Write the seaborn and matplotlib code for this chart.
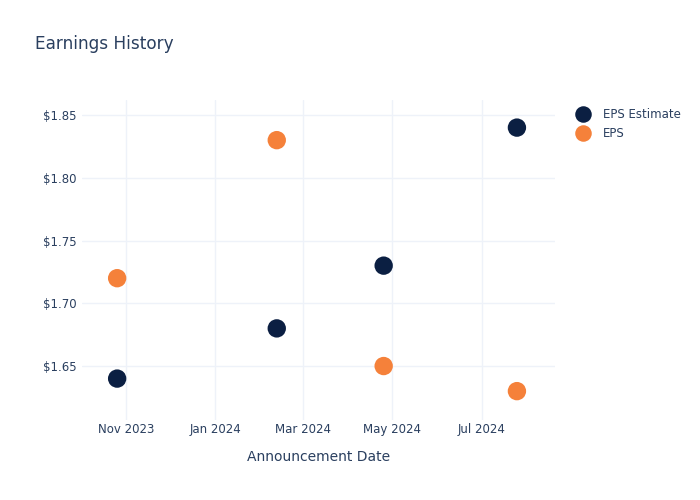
import matplotlib
matplotlib.use("Agg")
import matplotlib.pyplot as plt
import matplotlib.dates as mdates
from matplotlib.ticker import FuncFormatter
import seaborn as sns
import pandas as pd

dates = ["2023-10-26", "2024-02-12", "2024-04-25", "2024-07-25"]
eps_estimate = [1.64, 1.68, 1.73, 1.84]
eps_actual = [1.72, 1.83, 1.65, 1.63]
series_names = ["EPS Estimate", "EPS"]
colors = {"EPS Estimate": "#0b1f42", "EPS": "#f5813a"}

df = pd.DataFrame({
    "date": pd.to_datetime(dates * 2),
    "value": eps_estimate + eps_actual,
    "series": [series_names[0]] * len(dates) + [series_names[1]] * len(dates),
})

text_color = "#2a3f5f"
grid_color = "#eef2f9"

sns.set_style("white")
plt.rcParams["font.family"] = ["DejaVu Sans"]

fig = plt.figure(figsize=(7, 5), dpi=100)
ax = fig.add_axes([82 / 700, 80 / 500, 473 / 700, 320 / 500])

sns.scatterplot(data=df, x="date", y="value", hue="series", hue_order=series_names,
                palette=colors, s=175, edgecolor="none", ax=ax, zorder=3, legend=True)

ax.set_xlim(pd.Timestamp("2023-10-02"), pd.Timestamp("2024-08-20"))
ax.set_ylim(1.607, 1.862)
ax.set_yticks([1.65, 1.70, 1.75, 1.80, 1.85])
ax.yaxis.set_major_formatter(FuncFormatter(lambda v, p: f"${v:.2f}"))
ax.xaxis.set_major_locator(mdates.MonthLocator(bymonth=[1, 3, 5, 7, 9, 11]))
ax.xaxis.set_major_formatter(mdates.DateFormatter("%b %Y"))

ax.grid(True, color=grid_color, linewidth=1)
ax.set_axisbelow(True)
for s in ax.spines.values():
    s.set_visible(False)
ax.tick_params(axis="both", length=0, colors=text_color, labelsize=8.5)
ax.tick_params(axis="y", pad=4)
ax.tick_params(axis="x", pad=2)
ax.set_xlabel("Announcement Date", color=text_color, fontsize=10, labelpad=10.5)
ax.set_ylabel("")

leg = ax.legend(loc="upper left", bbox_to_anchor=(1.0165, 1.0), frameon=False,
                fontsize=8.5, handletextpad=0.7, labelspacing=0.5, borderaxespad=0.3,
                markerscale=0.9)
for t in leg.get_texts():
    t.set_color(text_color)

fig.text(35 / 700, 1 - 44 / 500, "Earnings History", color=text_color, fontsize=12.2, va="center")

fig.savefig("out.png", dpi=100)
